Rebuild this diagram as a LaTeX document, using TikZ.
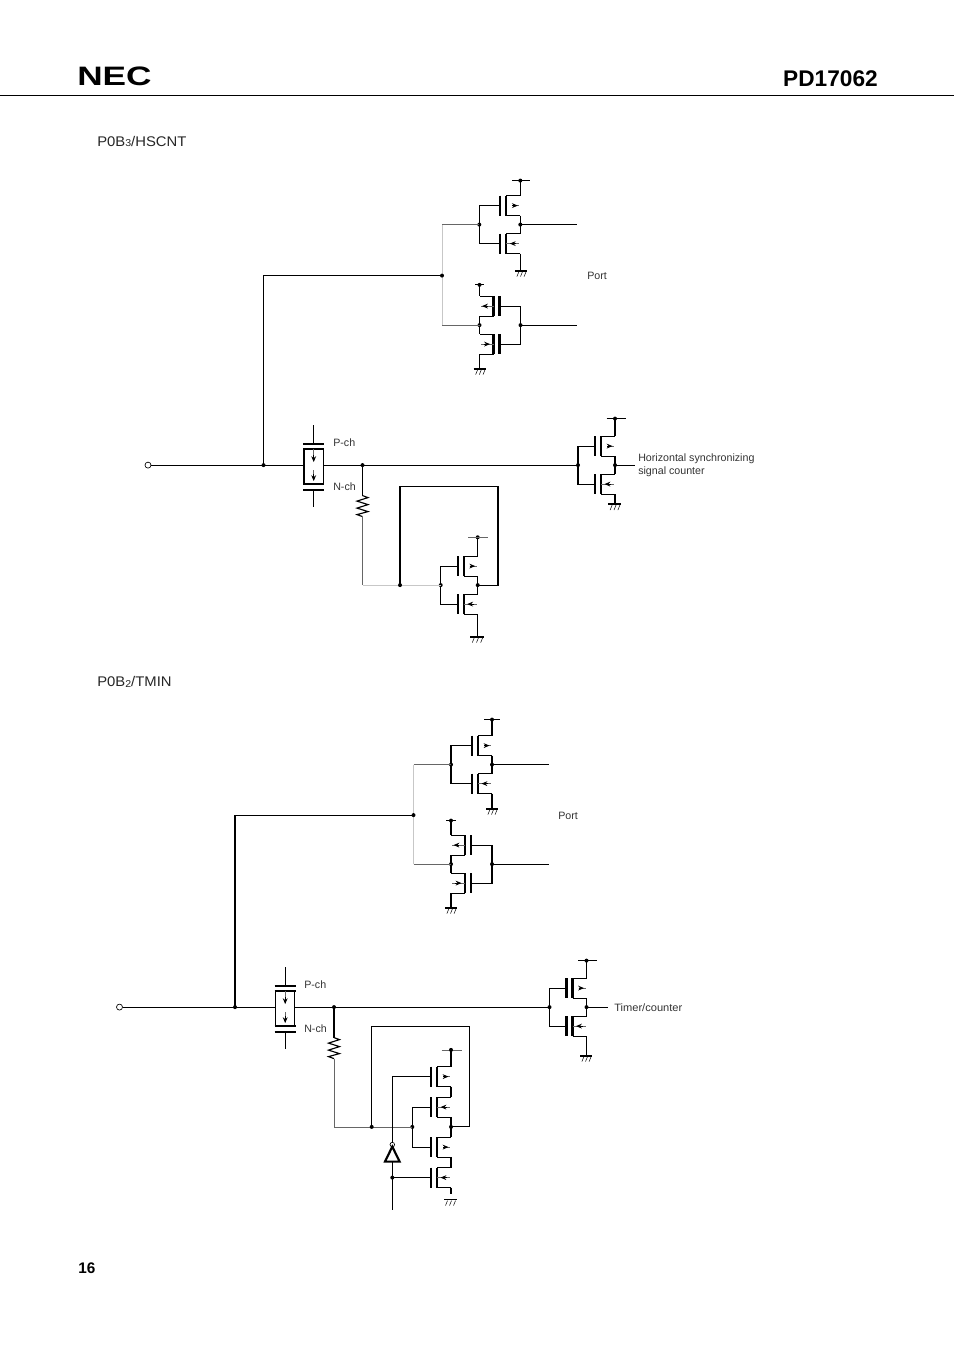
\documentclass[tikz,border=0pt]{standalone}
\usepackage{fontspec}
\setmainfont{Liberation Sans}
\usetikzlibrary{arrows.meta}
\tikzset{
    wire/.style={line width=0.85pt},
    hair/.style={line width=0.6pt,black!60},
    pale/.style={line width=0.75pt,black!22},
    plate/.style={line width=1.6pt},
    tipline/.style={line width=0.6pt,-{Stealth[length=4.4pt,width=3.6pt]}},
    lbl/.style={anchor=west,inner sep=0pt,align=left,text=black!80,font=\fontsize{8}{9.75}\selectfont},
    head/.style={anchor=west,inner sep=0pt,text=black!85,font=\fontsize{10.5}{12}\selectfont}
}
% one transistor: name, rail x, gate y, side
\newcommand{\fetbody}[1]{
    \draw[plate] (-20,-10) -- (-20,10);
    \draw[plate] (-14,-10) -- (-14,10);
    \draw[wire] (-14,-10) -- (0,-10);
    \draw[wire] (-14,10) -- (0,10);
    \coordinate (#1g) at (-20,0);
    \coordinate (#1s) at (0,-10);
    \coordinate (#1d) at (0,10);
}
\newcommand{\pfet}[5][-8]{
    \begin{scope}[shift={(#3,#4)},xscale=#5]
        \fetbody{#2}
        \draw[hair] (#1,0) -- (-1,0);
        \draw[tipline] (-8,0) -- (-2.5,0);
    \end{scope}
}
\newcommand{\nfet}[4]{
    \begin{scope}[shift={(#2,#3)},xscale=#4]
        \fetbody{#1}
        \draw[hair] (-14,0) -- (-1,0);
        \draw[tipline] (-4,0) -- (-10.5,0);
    \end{scope}
}
% pair: name, rail x, mid y, gate tie distance, top y, ground y, side
\newcommand{\cmospair}[7]{
    \ifnum#7<0
        \pfet[-14]{#1p}{#2}{#3-19}{#7}
    \else
        \pfet{#1p}{#2}{#3-19}{#7}
    \fi
    \nfet{#1n}{#2}{#3+19}{#7}
    \coordinate (#1r) at (#2,#3);
    \coordinate (#1a) at (#2-#7*#4,#3);
    \coordinate (#1t) at (#2,#5);
    \coordinate (#1b) at (#2,#6);
    \draw[wire] (#1t) -- (#1ps);
    \draw[wire] (#1pd) -- (#1ns);
    \draw[wire] (#1nd) -- (#1b);
    \draw[wire] (#1pg) -| (#1a) |- (#1ng);
    \fill (#1r) circle(1.5pt);
    \fill (#1a) circle(1.5pt);
    \fill (#1t) circle(1.5pt);
}
% ground: x left, x right, y
\newcommand{\gndbar}[3]{
    \draw[plate] (#1,#3) -- (#2,#3);
    \foreach \i in {0.2,0.5,0.8} {
        \draw[line width=0.4pt] ({#1+(#2-#1)*\i+1.5},#3+1) -- ({#1+(#2-#1)*\i-0.5},#3+6);
    }
}
% switch: name, x, y
\newcommand{\swbox}[3]{
    \begin{scope}[shift={(#2,#3)}]
        \draw[wire] (-9.7,-16.5) -- (-9.7,19);
        \draw[wire] (9.7,-16.5) -- (9.7,19);
        \draw[plate] (-10.5,-16.5) -- (10.5,-16.5);
        \draw[plate] (-10.5,19) -- (10.5,19);
        \draw[plate] (-10.5,-21) -- (10.5,-21);
        \draw[plate] (-10.5,24.5) -- (10.5,24.5);
        \draw[wire] (0,-40) -- (0,-21);
        \draw[wire] (0,24.5) -- (0,42);
        \draw[hair] (0,-16.5) -- (0,-6);
        \draw[tipline] (0,-10) -- (0,-3);
        \draw[hair] (0,5) -- (0,12);
        \draw[tipline] (0,9) -- (0,16);
        \coordinate (#1l) at (-9.7,0);
        \coordinate (#1r) at (9.7,0);
    \end{scope}
}
\newcommand{\zigzag}[2]{
    \draw[wire] (#1,#2) -- (#1+5.5,#2+2) -- (#1-5.5,#2+5.5) -- (#1+5.5,#2+9) -- (#1-5.5,#2+12.5) -- (#1+5.5,#2+16) -- (#1-5.5,#2+19) -- (#1,#2+21);
}
\begin{document}
\begin{tikzpicture}[x=0.75pt,y=-0.75pt]
    \useasboundingbox (0,-0.6) rectangle (954,1350.4);

    % header
    \node[anchor=base west,inner sep=0pt] (logo) at (77,84.6) {\scalebox{1.32}[1]{\fontsize{20}{20}\selectfont\bfseries NEC}};
    \node[anchor=base east,inner sep=0pt] (part) at (878,85.5) {\fontsize{17}{17}\selectfont\bfseries PD17062};
    \coordinate (ruleL) at (0,94.6);
    \coordinate (ruleR) at (954,94.6);
    \draw[wire] (ruleL) -- (ruleR);
    \node[anchor=base west,inner sep=0pt] (page) at (78,1272.5) {\fontsize{11.5}{12}\selectfont\bfseries 16};

    % first circuit
    \node[head] (title1) at (97,141) {\scalebox{1.06}[1]{P0B\raisebox{-0.5pt}{\fontsize{7.5}{8}\selectfont 3}/HSCNT}};
    \cmospair{ua}{520.3}{224}{41}{180}{270}{1}
    \draw[wire] (512,180) -- (530,180);
    \gndbar{515}{527}{270}
    \cmospair{ub}{479.5}{324.5}{41}{284.3}{368}{-1}
    \draw[wire] (475,284.3) -- (484,284.3);
    \gndbar{473.7}{486}{368}
    \coordinate (ubus) at (442,275);
    \coordinate (utop) at (442,224);
    \coordinate (ulow) at (442,324.5);
    \coordinate (uendA) at (577,224);
    \coordinate (uendB) at (577,324.5);
    \draw[pale] (utop) -- (ulow);
    \draw[hair] (utop) -- (uaa);
    \draw[hair] (ulow) -- (ubr);
    \draw[wire] (uar) -- (uendA);
    \draw[wire] (uba) -- (uendB);
    \fill (ubus) circle(1.5pt);
    \node[lbl] (port1) at (587,275) {Port};

    \node[circle,draw,line width=0.5pt,inner sep=0pt,minimum size=4.5pt] (pin1) at (148,464.5) {};
    \swbox{sw1}{313.7}{464.5}
    \coordinate (jin1) at (263.5,464.5);
    \coordinate (jout1) at (362.5,464.5);
    \fill (jin1) circle(1.5pt);
    \fill (jout1) circle(1.5pt);
    \draw[wire] (pin1) -- (sw1l);
    \draw[wire] (jin1) |- (ubus);
    \node[lbl] (pch1) at (333,442) {P-ch};
    \node[lbl] (nch1) at (333,486) {N-ch};
    \cmospair{rc}{615}{464.5}{37}{418}{503.5}{1}
    \draw[wire] (606.5,418) -- (625.5,418);
    \gndbar{608}{621}{503.5}
    \coordinate (rcend) at (635,464.5);
    \draw[wire] (sw1r) -- (rca);
    \draw[wire] (rcr) -- (rcend);
    \node[lbl] (rclabel) at (638,464.5) {Horizontal synchronizing\\signal counter};
    \cmospair{fa}{477.7}{584.5}{37}{536.7}{636}{1}
    \draw[hair] (468,536.7) -- (488,536.7);
    \gndbar{470}{484}{636}
    \coordinate (rtop1) at (362.5,495);
    \coordinate (rbot1) at (362.5,516);
    \coordinate (rend1) at (362.5,584.5);
    \coordinate (fbA) at (400,584.5);
    \coordinate (fbB) at (498,485.5);
    \coordinate (fbC) at (498,584.5);
    \draw[wire] (jout1) -- (rtop1);
    \zigzag{362.5}{495}
    \draw[hair] (rbot1) -- (rend1);
    \draw[pale] (rend1) -- (faa);
    \draw[wire] (fbA) |- (fbB) -- (fbC) -- (far);
    \fill (fbA) circle(1.5pt);

    % second circuit
    \node[head] (title2) at (97,681) {\scalebox{1.06}[1]{P0B\raisebox{-0.5pt}{\fontsize{7.5}{8}\selectfont 2}/TMIN}};
    \cmospair{va}{492}{764}{41}{719}{808}{1}
    \draw[wire] (484,719) -- (500,719);
    \gndbar{486}{498}{808}
    \cmospair{vb}{451}{863.5}{41}{820}{907}{-1}
    \draw[wire] (446,820) -- (456,820);
    \gndbar{445}{457}{907}
    \coordinate (vbus) at (413.5,814.5);
    \coordinate (vtop) at (413.5,764);
    \coordinate (vlow) at (413.5,863.5);
    \coordinate (vendA) at (549,764);
    \coordinate (vendB) at (549,863.5);
    \draw[pale] (vtop) -- (vlow);
    \draw[hair] (vtop) -- (vaa);
    \draw[hair] (vlow) -- (vbr);
    \draw[wire] (var) -- (vendA);
    \draw[wire] (vba) -- (vendB);
    \fill (vbus) circle(1.5pt);
    \node[lbl] (port2) at (558,815) {Port};

    \node[circle,draw,line width=0.5pt,inner sep=0pt,minimum size=4.5pt] (pin2) at (119.5,1006.5) {};
    \swbox{sw2}{285.2}{1006.5}
    \coordinate (jin2) at (235,1006.5);
    \coordinate (jout2) at (334,1006.5);
    \fill (jin2) circle(1.5pt);
    \fill (jout2) circle(1.5pt);
    \draw[wire] (pin2) -- (sw2l);
    \draw[wire] (jin2) |- (vbus);
    \node[lbl] (pch2) at (304,984) {P-ch};
    \node[lbl] (nch2) at (304,1028) {N-ch};
    \cmospair{rd}{586.5}{1006.5}{37}{960}{1055}{1}
    \draw[wire] (578,960) -- (597,960);
    \gndbar{580}{592}{1055}
    \coordinate (rdend) at (608,1006.5);
    \draw[wire] (sw2r) -- (rda);
    \draw[wire] (rdr) -- (rdend);
    \node[lbl] (rdlabel) at (614,1007) {\scalebox{1.04}[1]{Timer/counter}};

    \pfet{qa}{451}{1076}{1}
    \nfet{qb}{451}{1106.5}{1}
    \pfet{qc}{451}{1146.5}{1}
    \nfet{qd}{451}{1177}{1}
    \coordinate (qtop) at (451,1049.3);
    \coordinate (qend) at (451,1193);
    \coordinate (qmid) at (451,1126.3);
    \coordinate (qgate) at (412.3,1126.3);
    \draw[wire] (qtop) -- (qas);
    \draw[wire] (qad) -- (qbs);
    \draw[wire] (qbd) -- (qcs);
    \draw[wire] (qcd) -- (qds);
    \draw[wire] (qdd) -- (qend);
    \draw[hair] (441.7,1049.3) -- (461.7,1049.3);
    \fill (qtop) circle(1.5pt);
    \draw[wire] (qbg) -| (qgate) |- (qcg);
    \fill (qgate) circle(1.5pt);
    \fill (qmid) circle(1.5pt);
    \draw[line width=0.4pt] (444,1199) -- (457,1199);
    \foreach \i in {447,451,455} {
        \draw[line width=0.4pt] (\i+0.5,1200) -- (\i-1.5,1205);
    }
    \coordinate (rtop2) at (334,1037);
    \coordinate (rbot2) at (334,1058);
    \coordinate (rend2) at (334,1126.3);
    \coordinate (fcA) at (371.7,1126.3);
    \coordinate (fcB) at (469.3,1026);
    \coordinate (fcC) at (469.3,1126.3);
    \draw[wire] (jout2) -- (rtop2);
    \zigzag{334}{1037}
    \draw[hair] (rbot2) -- (rend2);
    \draw[hair] (rend2) -- (qgate);
    \draw[wire] (fcA) |- (fcB) -- (fcC) -- (qmid);
    \fill (fcA) circle(1.5pt);

    % inverter
    \node[circle,draw,line width=0.5pt,inner sep=0pt,minimum size=3.4pt] (bubble) at (392.3,1144) {};
    \coordinate (invA) at (392.3,1146);
    \coordinate (invB) at (385,1161);
    \coordinate (invC) at (399.6,1161);
    \coordinate (invbase) at (392.3,1161);
    \coordinate (invin) at (392.3,1177);
    \coordinate (invend) at (392.3,1209);
    \draw[plate,line join=miter] (invA) -- (invB) -- (invC) -- cycle;
    \draw[wire] (qag) -| (bubble.north);
    \draw[wire] (invbase) -- (invend);
    \draw[wire] (invin) -- (qdg);
    \fill (invin) circle(1.5pt);
\end{tikzpicture}
\end{document}
